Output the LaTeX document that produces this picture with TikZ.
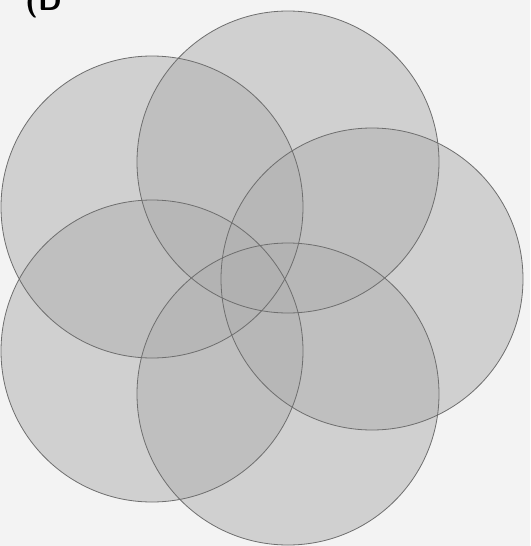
\documentclass[tikz,border=0pt]{standalone}
\usepackage{xcolor}
\definecolor{bgc}{RGB}{243,243,243}
\definecolor{discfill}{RGB}{176,176,176}
\definecolor{rimc}{RGB}{110,110,110}
\begin{document}
\begin{tikzpicture}[x=1pt,y=-1pt,
  disc/.style={fill=discfill,fill opacity=0.52},
  rim/.style={draw=rimc,line width=0.8pt}]
\useasboundingbox (0,0) rectangle (530,546);
\clip (0,0) rectangle (530,546);
\fill[bgc] (0,0) rectangle (530,546);
\node[anchor=base west,inner sep=0pt,text=black,font=\fontsize{30}{32}\selectfont\sffamily\bfseries] (lab) at (25,10) {(D};
% centres of the five discs
\coordinate (cT) at (288,162);
\coordinate (cUL) at (152,207);
\coordinate (cR) at (372,279);
\coordinate (cLL) at (152,351);
\coordinate (cB) at (288,394);
\foreach \c in {cT,cUL,cR,cLL,cB}{\fill[disc] (\c) circle (151);}
\foreach \c in {cT,cUL,cR,cLL,cB}{\draw[rim] (\c) circle (151);}
\end{tikzpicture}
\end{document}
